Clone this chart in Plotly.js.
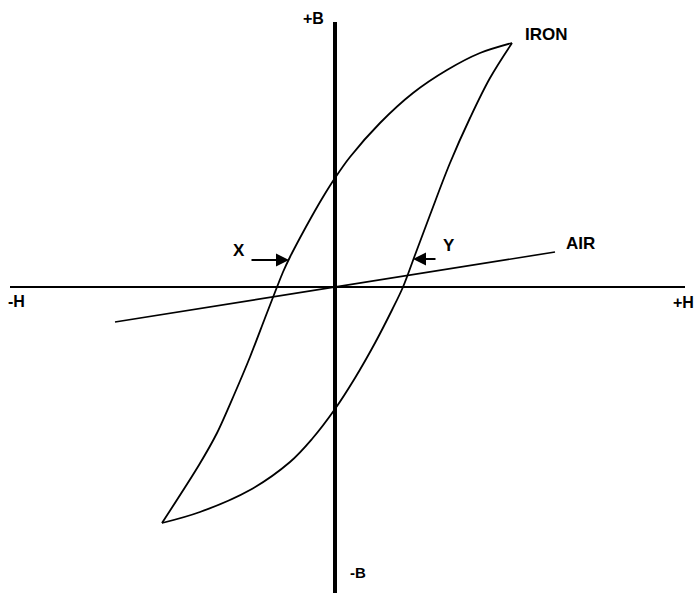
<!DOCTYPE html>
<html>
<head>
<meta charset="utf-8">
<script src="https://cdn.plot.ly/plotly-3.0.1.min.js"></script>
<style>html,body{margin:0;padding:0;background:#fff;}#chart{width:699px;height:593px;}</style>
</head>
<body>
<div id="chart"></div>
<script>
// Iron hysteresis loop: descending branch (from +Bmax through +Br, -Hc to -Bmax)
const ironDownH = [177, 145, 112, 78, 45, 15, 0, -12, -23, -34, -45, -52, -58, -70, -85, -101, -118, -136, -173];
const ironDownB = [244, 234, 217, 194, 164, 130, 109, 90, 71, 51, 30, 15, 0, -31, -70, -108, -146, -178, -236];
// Ascending branch (from -Bmax through -Br, +Hc to +Bmax)
const ironUpH = [-173, -135, -85, -45, -23, 0, 20, 40, 57, 68, 80, 95, 115, 135, 155, 177];
const ironUpB = [-236, -225, -203, -175, -152, -122, -91, -56, -23, 0, 32, 72, 124, 169, 209, 244];
// Air line
const airH = [-220, 0, 220];
const airB = [-35, 0, 35];
// Axes
const hAxisH = [-325, 350];
const hAxisB = [0, 0];
const bAxisH = [0, 0];
const bAxisB = [265, -306];
// Labels
const labelText = ['+B', '-B', '-H', '+H', 'IRON', 'AIR', 'X', 'Y'];
const labelH = [-22, 23, -319, 348, 211, 245, -96, 114];
const labelB = [269, -285, -14, -15, 253, 44, 37, 42];
const labelSize = [16, 15, 16, 16, 17, 17, 17, 17];
// Arrows pointing at the coercive points
const arrowTailH = [-85, 102];
const arrowHeadH = [-46, 78];
const arrowB = [27, 28];

const black = '#000';
const traces = [
  {x: hAxisH, y: hAxisB, mode: 'lines', line: {color: black, width: 2}},
  {x: bAxisH, y: bAxisB, mode: 'lines', line: {color: black, width: 4}},
  {x: airH, y: airB, mode: 'lines', line: {color: black, width: 1.6}},
  {x: ironDownH, y: ironDownB, mode: 'lines', line: {color: black, width: 1.8, shape: 'spline', smoothing: 0.8}},
  {x: ironUpH, y: ironUpB, mode: 'lines', line: {color: black, width: 1.8, shape: 'spline', smoothing: 1}}
];

const annotations = labelText.map((t, i) => ({
  x: labelH[i], y: labelB[i], xref: 'x', yref: 'y', text: '<b>' + t + '</b>', showarrow: false,
  font: {family: 'Liberation Sans, Arial, sans-serif', size: labelSize[i], color: black}
}));
arrowTailH.forEach((tx, i) => {
  annotations.push({
    x: arrowHeadH[i], y: arrowB[i], ax: tx, ay: arrowB[i], xref: 'x', yref: 'y', axref: 'x', ayref: 'y',
    text: '', showarrow: true, arrowhead: 2, arrowsize: 1.3, arrowwidth: 2, arrowcolor: black, standoff: 0, startstandoff: 0
  });
});

const layout = {
  width: 699, height: 593,
  margin: {l: 0, r: 0, t: 0, b: 0},
  paper_bgcolor: '#fff', plot_bgcolor: '#fff',
  showlegend: false,
  xaxis: {range: [-335, 364], visible: false, fixedrange: true},
  yaxis: {range: [-306, 287], visible: false, fixedrange: true},
  annotations: annotations
};
Plotly.newPlot('chart', traces, layout, {staticPlot: true});
</script>
</body>
</html>
